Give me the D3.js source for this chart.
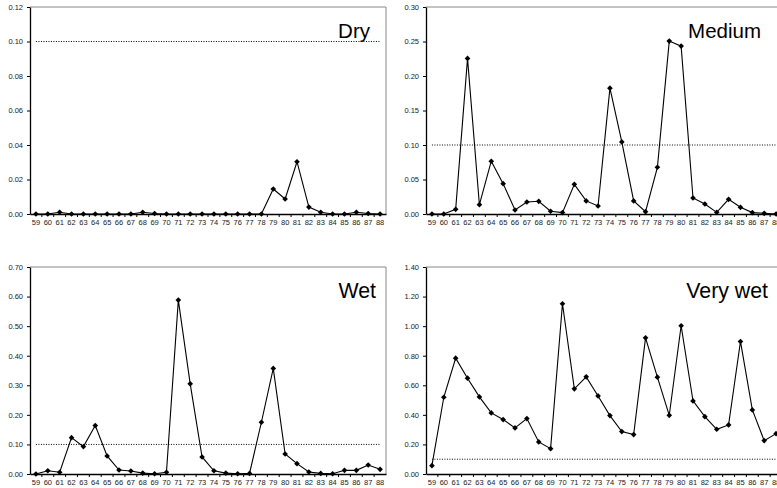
<!DOCTYPE html>
<html>
<head>
<meta charset="utf-8">
<script src="https://cdn.jsdelivr.net/npm/d3@7"></script>
<style>
  body { margin: 0; background: #fff; }
  svg { display: block; font-family: Arial, "Liberation Sans", sans-serif; }
</style>
</head>
<body>
<div id="chart"></div>
<script>
// years on the category axis
const years = d3.range(59, 89).map(String)

// series values, one per year 59..88
const dry = [0, 0, 0.001, 0, 0, 0, 0, 0, 0, 0.001, 0.0003, 0, 0, 0, 0, 0, 0, 0, 0, 0,
  0.0145, 0.0087, 0.0303, 0.004, 0.001, 0, 0, 0.001, 0.0003, 0]
const medium = [0, 0, 0.0068, 0.2255, 0.0135, 0.0765, 0.044, 0.0058, 0.0174, 0.0184,
  0.004, 0.002, 0.043, 0.019, 0.0116, 0.1824, 0.1045, 0.019, 0.0034, 0.0677,
  0.2506, 0.2433, 0.0232, 0.0145, 0.0024, 0.0213, 0.0097, 0.002, 0.001, 0]
const wet = [0, 0.011, 0.006, 0.123, 0.0926, 0.1637, 0.061, 0.0135, 0.01, 0.003,
  0.001, 0.006, 0.588, 0.305, 0.0576, 0.011, 0.003, 0.001, 0.002, 0.175,
  0.357, 0.0677, 0.035, 0.0068, 0.002, 0.001, 0.0124, 0.0124, 0.0305, 0.0158]
const veryWet = [0.0565, 0.519, 0.7835, 0.648, 0.5216, 0.413, 0.368, 0.3116, 0.375, 0.2168,
  0.1716, 1.1516, 0.5758, 0.657, 0.528, 0.395, 0.2868, 0.2664, 0.921, 0.655,
  0.397, 1.0026, 0.4945, 0.388, 0.3026, 0.332, 0.8964, 0.4335, 0.2258, 0.273]

// y tick labels per panel
const dryTicks = [0, 0.02, 0.04, 0.06, 0.08, 0.10, 0.12]
const mediumTicks = [0, 0.05, 0.10, 0.15, 0.20, 0.25, 0.30]
const wetTicks = [0, 0.10, 0.20, 0.30, 0.40, 0.50, 0.60, 0.70]
const veryWetTicks = [0, 0.20, 0.40, 0.60, 0.80, 1.00, 1.20, 1.40]

// threshold shown as a dotted line
const threshold = 0.10

const titles = ["Dry", "Medium", "Wet", "Very wet"]

const W = 777, H = 488
const svg = d3.select("#chart").append("svg")
  .attr("width", W).attr("height", H)

// panel layout
const panels = [
  {title: titles[0], values: dry, ticks: dryTicks, left: 30, top: 7, titleEnd: 340, titleSize: 20.5},
  {title: titles[1], values: medium, ticks: mediumTicks, left: 426, top: 7, titleEnd: 335, titleSize: 20.5},
  {title: titles[2], values: wet, ticks: wetTicks, left: 30, top: 267, titleEnd: 346, titleSize: 21.3},
  {title: titles[3], values: veryWet, ticks: veryWetTicks, left: 426, top: 267, titleEnd: 342, titleSize: 21.3}
]
const width = 356, height = 207

panels.forEach(function(p) {
  const g = svg.append("g")
    .attr("transform", "translate(" + p.left + "," + p.top + ")")

  const x = d3.scaleBand().domain(years).range([0, width]).padding(0)
  const y = d3.scaleLinear().domain([0, d3.max(p.ticks)]).range([height, 0])
  const cx = d => x(d) + x.bandwidth() / 2

  // plot frame: grey top and right
  g.append("path")
    .attr("d", "M0,0H" + width + "V" + height)
    .attr("fill", "none").attr("stroke", "#888").attr("stroke-width", 1)

  // threshold line
  g.append("line")
    .attr("x1", cx(years[0])).attr("x2", cx(years[years.length - 1]))
    .attr("y1", y(threshold)).attr("y2", y(threshold))
    .attr("stroke", "#000").attr("stroke-width", 1)
    .attr("stroke-dasharray", "1,1.5")

  // Y axis
  const yAxis = g.append("g")
    .call(d3.axisLeft(y).tickValues(p.ticks).tickSize(3).tickSizeOuter(0).tickFormat(d3.format(".2f")))
  yAxis.select(".domain").attr("stroke", "#000").attr("stroke-width", 1.3)
  yAxis.selectAll(".tick line").attr("stroke", "#000")
  yAxis.selectAll("text").attr("font-size", "7.5px").attr("fill", "#222")
    .attr("font-family", "Arial, 'Liberation Sans', sans-serif").attr("dx", "-1")

  // X axis
  const xAxis = g.append("g")
    .attr("transform", "translate(0," + height + ")")
    .call(d3.axisBottom(x).tickSize(0).tickSizeOuter(0).tickPadding(6))
  xAxis.select(".domain").attr("stroke", "#000").attr("stroke-width", 1.3)
  xAxis.selectAll("text").attr("font-size", "7.5px").attr("fill", "#222")
    .attr("font-family", "Arial, 'Liberation Sans', sans-serif")
  // ticks between categories
  xAxis.selectAll(".cat-tick")
    .data(years.slice(1))
    .enter().append("line")
    .attr("class", "cat-tick")
    .attr("x1", d => x(d)).attr("x2", d => x(d))
    .attr("y1", 0).attr("y2", 3)
    .attr("stroke", "#000")

  // series line
  const pts = years.map((yr, i) => [yr, p.values[i]])
  g.append("path")
    .datum(pts)
    .attr("fill", "none").attr("stroke", "#000").attr("stroke-width", 1.1)
    .attr("d", d3.line().x(d => cx(d[0])).y(d => y(d[1])))

  // diamond markers
  g.selectAll(".marker")
    .data(pts)
    .enter().append("path")
    .attr("class", "marker")
    .attr("d", d3.symbol().type(d3.symbolSquare).size(16))
    .attr("transform", d => "translate(" + cx(d[0]) + "," + y(d[1]) + ") rotate(45)")
    .attr("fill", "#000")

  // panel title
  g.append("text")
    .attr("x", p.titleEnd).attr("y", 31)
    .attr("text-anchor", "end")
    .attr("font-size", p.titleSize + "px")
    .attr("fill", "#000")
    .text(p.title)
})
</script>
</body>
</html>
